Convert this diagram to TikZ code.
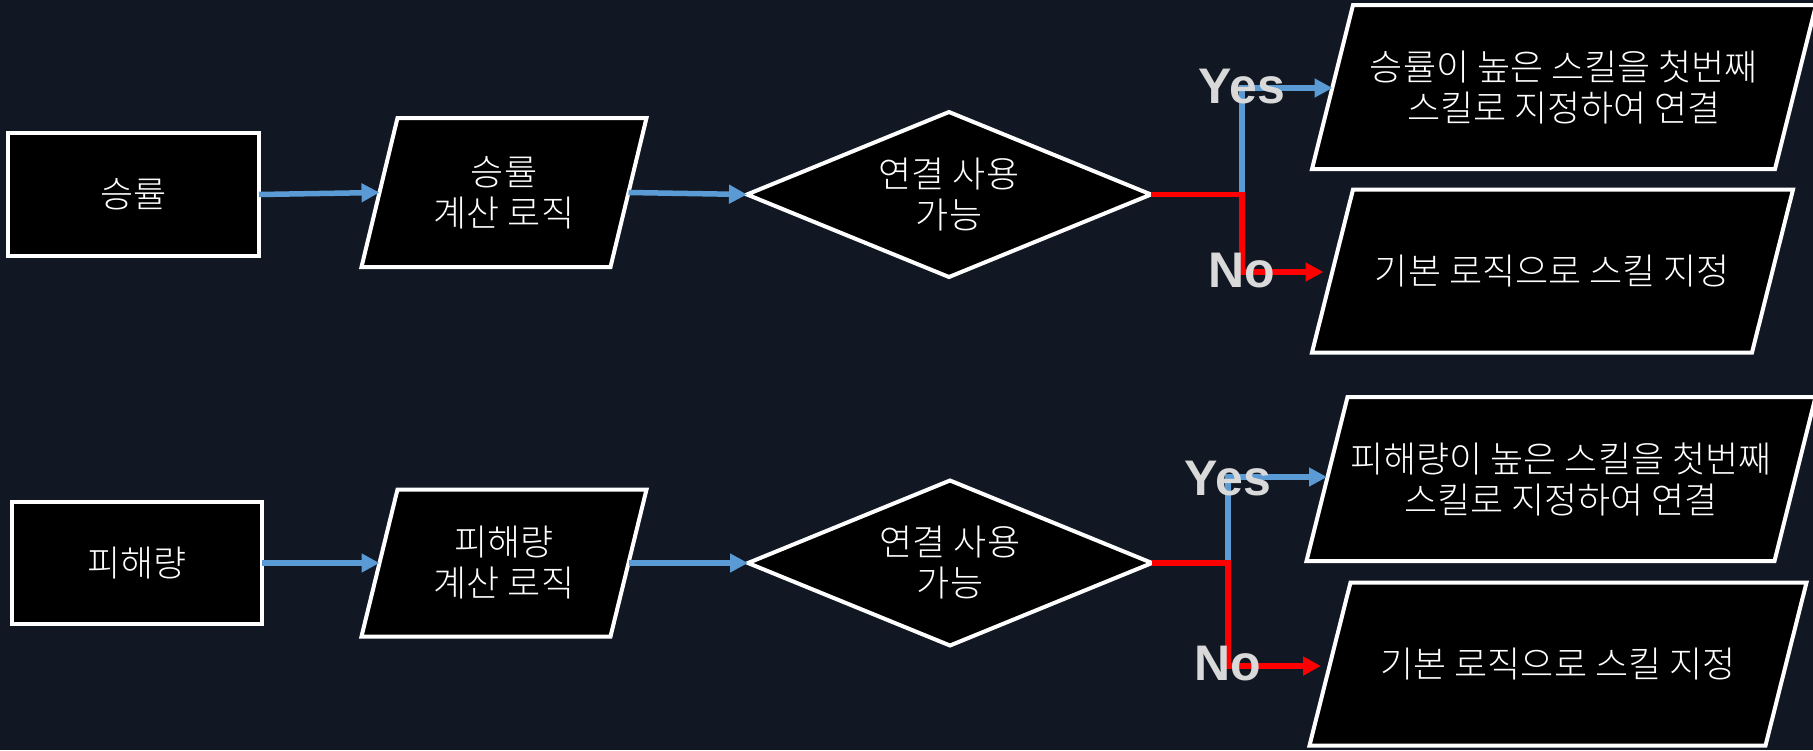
\documentclass[tikz,border=0pt]{standalone}
\usepackage{fontspec}
\setmainfont{Noto Sans CJK KR Light}
\newfontfamily\lblfont{Liberation Sans}
\usetikzlibrary{shapes.geometric,arrows.meta,backgrounds}
\definecolor{bgnavy}{HTML}{111823}
\definecolor{flowblue}{HTML}{5B9BD5}
\definecolor{flowred}{HTML}{FF0000}
\definecolor{lblgray}{HTML}{D9D9D9}
\tikzset{
  boxline/.style={draw=white, fill=black, line width=4pt, line join=miter},
  boxtext/.style={text=white, align=center, inner sep=0pt, outer sep=0pt,
    font=\fontsize{36}{41}\selectfont},
  box/.style={boxline, boxtext},
  procbox/.style={box, rectangle},
  % slanted input/output box: the node holds the text, the outline is drawn behind it
  iobox/.style={boxtext, rectangle},
  decbox/.style={box, diamond, aspect=2.45},
  tip/.style={-{Triangle[length=18pt,width=18pt]}},
  flowline/.style={draw=flowblue, line width=5.5pt, tip},
  yesline/.style={draw=flowblue, line width=5.5pt, tip},
  noline/.style={draw=flowred, line width=5.5pt, tip, shorten >=9pt},
  lbl/.style={text=lblgray, inner sep=0pt,
    font=\lblfont\bfseries\fontsize{50}{60}\selectfont},
}
\begin{document}
\begin{tikzpicture}[x=1pt,y=-1pt]
\useasboundingbox (0,0) rectangle (1813,750);

% win-rate branch
\node[procbox, minimum width=251, minimum height=123] (r1) at (133.5,194.5) {승률};
\node[iobox, minimum width=249, minimum height=149] (p1) at (504,192.5) {승률\\계산 로직};
\node[decbox, minimum width=404, minimum height=165] (d1) at (949,194.5) {연결 사용\\가능};
\node[iobox, minimum width=463, minimum height=164] (yes1) at (1564,87) {승률이 높은 스킬을 첫번째\\스킬로 지정하여 연결};
\node[iobox, minimum width=440, minimum height=163] (no1) at (1552.5,271) {기본 로직으로 스킬 지정};
\coordinate (j1) at (1242,194.5);

% damage branch
\node[procbox, minimum width=250, minimum height=122] (r2) at (137,563) {피해량};
\node[iobox, minimum width=249, minimum height=147] (p2) at (504,563) {피해량\\계산 로직};
\node[decbox, minimum width=404, minimum height=165] (d2) at (950,563) {연결 사용\\가능};
\node[iobox, minimum width=468, minimum height=164] (yes2) at (1561,479) {피해량이 높은 스킬을 첫번째\\스킬로 지정하여 연결};
\node[iobox, minimum width=456, minimum height=163] (no2) at (1558,664) {기본 로직으로 스킬 지정};
\coordinate (j2) at (1228,563);

% parallelogram outlines behind the text (node / offset / half slant)
\begin{scope}[on background layer]
  \fill[bgnavy] (0,0) rectangle (1813,750);
  \foreach \n/\dx/\dy/\s in {p1/0/0/18, p2/0/0/18, yes1/-2/2/20.5, no1/0/1.5/20.5,
                             yes2/-1.5/2/20.5, no2/-3.5/1.5/20.5} {
    \begin{scope}[shift={(\dx,\dy)}]
      \draw[boxline] ([xshift=-\s pt]\n.south west) -- ([xshift=\s pt]\n.north west)
        -- ([xshift=\s pt]\n.north east) -- ([xshift=-\s pt]\n.south east) -- cycle;
    \end{scope}
  }
\end{scope}

% main flow
\draw[flowline] (r1.east) -- (p1.west);
\draw[flowline] (p1.east) -- (d1.west);
\draw[flowline] (r2.east) -- (p2.west);
\draw[flowline] (p2.east) -- (d2.west);

% decision outcomes
\draw[yesline] (j1) |- ([yshift=-1pt]yes1.west);
\draw[noline] (d1.east) -- (j1) |- ([yshift=-1pt]no1.west);
\draw[yesline] (j2) |- ([yshift=2pt]yes2.west);
\draw[noline] (d2.east) -- (j2) |- ([yshift=-2pt]no2.west);

\node[lbl] (y1) at (j1 |- yes1.west) {Yes};
\node[lbl] (n1) at (j1 |- no1.west) {No};
\node[lbl] (y2) at (j2 |- yes2.west) {Yes};
\node[lbl] (n2) at (j2 |- no2.west) {No};
\end{tikzpicture}
\end{document}
